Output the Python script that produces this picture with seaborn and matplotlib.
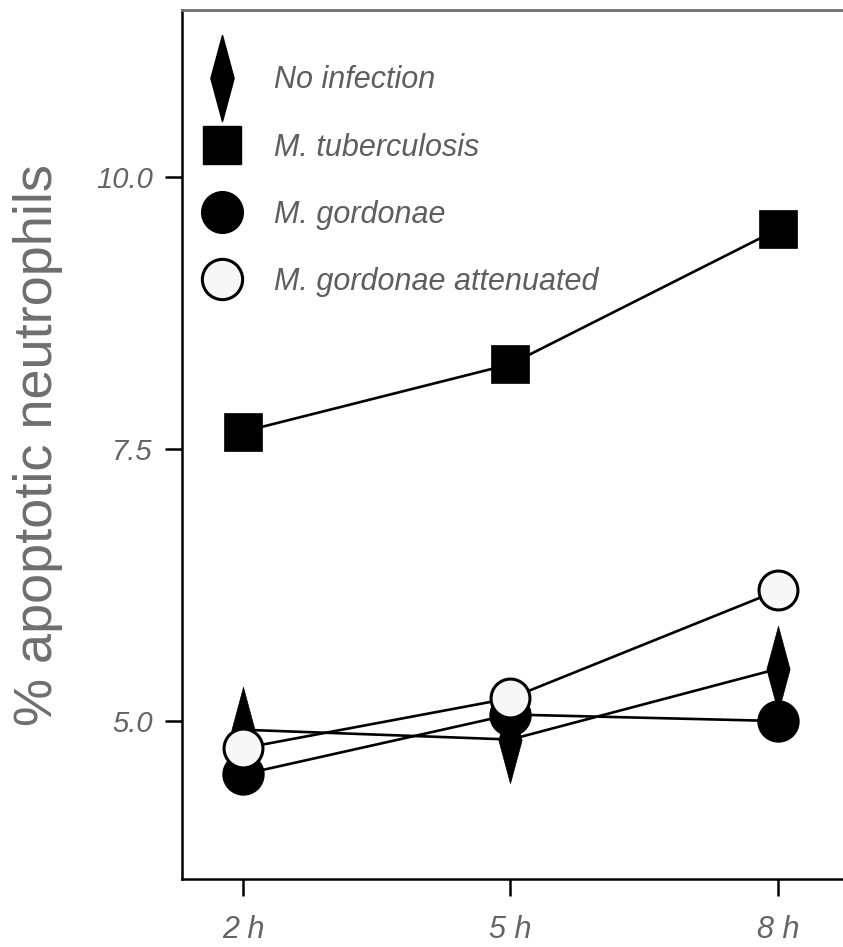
import numpy as np
import pandas as pd
import matplotlib
matplotlib.use("Agg")
import matplotlib.pyplot as plt
from matplotlib.lines import Line2D
import seaborn as sns

# ---- data ----
times = ["2 h", "5 h", "8 h"]
series_names = ["No infection", "M. tuberculosis", "M. gordonae", "M. gordonae attenuated"]
no_infection = [4.92, 4.83, 5.48]
m_tuberculosis = [7.66, 8.28, 9.52]
m_gordonae = [4.51, 5.06, 5.00]
m_gordonae_att = [4.75, 5.21, 6.20]
y_ticks = [5.0, 7.5, 10.0]
y_tick_labels = ["5.0", "7.5", "10.0"]

sns.set_theme(style="white")
plt.rcParams["font.family"] = ["Liberation Sans", "DejaVu Sans"]

fig = plt.figure(figsize=(8.43, 9.47), dpi=100)
ax = fig.add_axes([0.2159, 0.0718, 0.7841, 0.9176])

xpos = np.arange(len(times))
diamond = [(0, 1), (0.27, 0), (0, -1), (-0.27, 0), (0, 1)]

styles = [
    (no_infection, dict(marker=diamond, markersize=62, markerfacecolor="black", markeredgecolor="black", markeredgewidth=0.5), 2),
    (m_gordonae, dict(marker="o", markersize=29, markerfacecolor="black", markeredgecolor="black", markeredgewidth=1.5), 3),
    (m_gordonae_att, dict(marker="o", markersize=28, markerfacecolor="#f7f7f7", markeredgecolor="black", markeredgewidth=2.2), 4),
    (m_tuberculosis, dict(marker="s", markersize=27, markerfacecolor="black", markeredgecolor="black", markeredgewidth=0.5), 5),
]
for vals, kw, z in styles:
    df = pd.DataFrame({"x": xpos, "y": vals})
    sns.lineplot(data=df, x="x", y="y", ax=ax, color="black", linewidth=1.9,
                 zorder=z, **kw)

ax.set_xlim(-0.228, 2.243)
ax.set_ylim(3.548, 11.535)
ax.set_xticks(xpos)
ax.set_xticklabels(times)
ax.set_yticks(y_ticks)
ax.set_yticklabels(y_tick_labels)
ax.set_xlabel("")
ax.set_ylabel("% apoptotic neutrophils", fontsize=39, color="#6e6e6e", labelpad=24)

ax.tick_params(axis="both", which="both", direction="out", length=12, width=1.8,
               color="black", labelcolor="#646464", left=True, bottom=True)
ax.tick_params(axis="y", labelsize=21, pad=9)
ax.tick_params(axis="x", labelsize=22, pad=14)
for lab in ax.get_xticklabels() + ax.get_yticklabels():
    lab.set_fontstyle("italic")

ax.spines["right"].set_visible(False)
ax.spines["left"].set_color("black")
ax.spines["left"].set_linewidth(1.8)
ax.spines["bottom"].set_color("black")
ax.spines["bottom"].set_linewidth(1.8)
ax.spines["top"].set_color("#6f6f6f")
ax.spines["top"].set_linewidth(2.0)
ax.grid(False)

handles = [
    Line2D([], [], linestyle="none", marker=diamond, markersize=62, markerfacecolor="black", markeredgecolor="black"),
    Line2D([], [], linestyle="none", marker="s", markersize=27, markerfacecolor="black", markeredgecolor="black"),
    Line2D([], [], linestyle="none", marker="o", markersize=30, markerfacecolor="black", markeredgecolor="black"),
    Line2D([], [], linestyle="none", marker="o", markersize=29, markerfacecolor="#f7f7f7", markeredgecolor="black", markeredgewidth=2.2),
]
leg = ax.legend(handles, series_names, loc="upper left", bbox_to_anchor=(0.0, 0.961),
                frameon=False, handlelength=1.2, handletextpad=1.12,
                labelspacing=1.22, borderaxespad=0.3, prop={"style": "italic", "size": 22})
for t in leg.get_texts():
    t.set_color("#5e5e5e")

fig.savefig("out.png", dpi=100)
